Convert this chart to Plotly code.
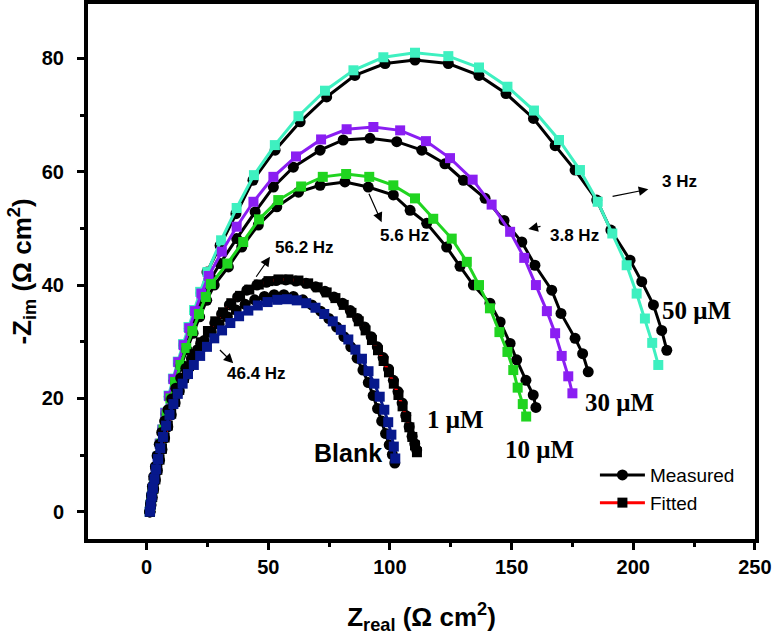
import plotly.graph_objects as go

# ---------------- data ----------------
# 50 uM
m50_x = [1.3, 1.6, 2.0, 2.5, 3.1, 3.8, 4.6, 5.5, 6.6, 7.8, 9.3, 11.1, 13.1, 15.3, 17.6, 20.0, 22.4, 24.8,
         30.2, 36.7, 43.7, 52.8, 63.1, 74.0, 85.6, 98.0, 110.3, 124.0, 136.6, 147.7, 159.0, 167.9, 176.1,
         185.0, 190.8, 198.7, 203.5, 208.3, 211.7, 213.8]
m50_y = [0.0, 1.2, 2.5, 4.0, 5.7, 7.6, 9.7, 12.0, 14.5, 17.3, 20.3, 23.3, 26.3, 29.4, 32.4, 35.4, 38.6, 42.3,
         47.0, 52.6, 58.5, 63.8, 68.8, 73.2, 77.0, 79.1, 79.7, 79.1, 77.0, 73.8, 69.4, 64.6, 60.3,
         55.0, 49.7, 44.4, 40.6, 36.5, 32.0, 28.5]
f50_x = [1.2, 1.5, 1.9, 2.4, 3.0, 3.7, 4.5, 5.4, 6.4, 7.6, 9.0, 10.8, 12.8, 15.0, 17.2, 19.5, 22.0, 25.0,
         30.6, 37.0, 44.1, 52.7, 62.4, 73.3, 85.0, 97.3, 110.3, 124.0, 136.6, 148.3, 159.2, 169.5, 178.1,
         185.4, 191.4, 197.3, 201.4, 204.8, 207.8, 210.3]
f50_y = [0.0, 1.2, 2.5, 4.0, 5.7, 7.6, 9.7, 12.0, 14.5, 17.5, 20.5, 23.5, 26.5, 29.6, 32.6, 35.6, 38.8, 42.3,
         47.9, 53.6, 59.4, 64.7, 69.8, 74.3, 77.9, 80.2, 81.0, 80.4, 78.4, 75.0, 70.8, 65.6, 60.3,
         54.7, 49.1, 43.5, 38.5, 34.1, 29.8, 25.9]

# 30 uM
m30_x = [1.3, 1.6, 2.0, 2.5, 3.1, 3.8, 4.7, 5.6, 6.7, 8.0, 9.5, 11.3, 13.4, 15.7, 18.1, 20.6, 23.4, 26.5,
         30.2, 37.0, 44.6, 52.1, 60.3, 71.3, 80.8, 91.8, 102.8, 113.1, 122.6, 130.2, 139.1, 146.9, 154.2,
         159.6, 166.5, 170.3, 176.1, 179.2, 181.5]
m30_y = [0.0, 1.2, 2.5, 4.0, 5.7, 7.6, 9.7, 12.0, 14.5, 17.3, 20.2, 23.1, 26.1, 29.1, 32.1, 35.1, 38.2, 41.2,
         43.8, 48.2, 52.9, 57.3, 60.8, 63.8, 65.6, 65.9, 65.3, 63.8, 61.4, 58.5, 55.3, 51.4, 47.6,
         43.5, 39.1, 35.0, 30.6, 27.9, 24.7]
f30_x = [1.2, 1.5, 1.9, 2.4, 3.0, 3.7, 4.5, 5.4, 6.5, 7.7, 9.2, 11.0, 13.0, 15.2, 17.5, 19.9, 22.5, 25.5,
         30.9, 37.0, 43.9, 52.1, 61.4, 71.7, 82.2, 93.2, 104.2, 114.8, 124.7, 134.0, 141.8, 149.4, 155.2,
         160.0, 164.5, 167.9, 170.6, 173.3, 175.0]
f30_y = [0.0, 1.2, 2.5, 4.0, 5.7, 7.6, 9.7, 12.0, 14.5, 17.4, 20.4, 23.4, 26.4, 29.4, 32.4, 35.4, 38.5, 41.6,
         45.9, 50.3, 54.7, 59.1, 62.7, 65.7, 67.5, 67.9, 67.3, 65.4, 62.4, 58.6, 54.2, 49.4, 44.8,
         40.0, 35.4, 31.5, 27.5, 23.9, 20.9]

# 10 uM
m10_x = [1.3, 1.7, 2.1, 2.6, 3.3, 4.0, 4.9, 5.9, 7.1, 8.4, 10.0, 11.9, 14.1, 16.5, 19.1, 21.8, 24.7, 27.8,
         33.6, 39.1, 45.9, 53.5, 62.4, 71.3, 81.5, 91.1, 101.4, 108.3, 115.1, 123.3, 128.8, 134.3, 141.1,
         145.3, 149.4, 152.1, 155.9, 158.9, 160.0]
m10_y = [0.0, 1.2, 2.5, 4.0, 5.7, 7.6, 9.7, 12.0, 14.5, 17.1, 19.9, 22.8, 25.7, 28.6, 31.5, 34.4, 37.3, 40.0,
         43.2, 46.7, 50.6, 53.8, 56.4, 57.6, 58.2, 57.3, 55.9, 53.2, 50.9, 46.7, 43.3, 40.0, 36.8,
         33.5, 29.7, 26.8, 23.2, 20.6, 18.4]
f10_x = [1.3, 1.6, 2.0, 2.5, 3.1, 3.9, 4.8, 5.8, 6.9, 8.2, 9.8, 11.7, 13.9, 16.3, 18.8, 21.5, 24.3, 26.4,
         33.2, 39.7, 46.2, 54.1, 63.5, 72.4, 82.0, 91.5, 101.4, 110.3, 117.8, 125.4, 131.6, 136.6, 141.1,
         145.0, 148.3, 150.7, 152.5, 154.6, 156.0]
f10_y = [0.0, 1.2, 2.5, 4.0, 5.7, 7.6, 9.7, 12.0, 14.5, 17.2, 20.0, 22.9, 25.9, 28.9, 31.9, 34.9, 37.9, 40.2,
         43.8, 47.6, 51.6, 55.0, 57.4, 59.1, 59.6, 59.1, 57.6, 55.3, 51.7, 48.2, 44.1, 40.0, 35.9,
         31.7, 28.2, 25.0, 21.9, 19.0, 16.8]

# 1 uM
m1_x = [1.4, 1.8, 2.3, 2.9, 3.6, 4.4, 5.3, 6.3, 7.4, 8.7, 10.1, 11.7, 13.4, 15.3, 17.4, 19.7, 22.2, 25.4,
        28.0, 30.8, 34.0, 37.4, 41.2, 45.3, 49.2, 53.2, 57.2, 61.3, 65.5, 69.5, 73.3, 77.0, 80.5, 83.7,
        86.7, 89.6, 92.3, 94.8, 97.2, 99.4, 101.4, 103.3, 105.0, 106.5, 107.9, 109.1, 110.2, 111.0]
m1_y = [0.0, 1.2, 2.5, 4.0, 5.6, 7.3, 9.1, 11.0, 13.0, 15.0, 17.1, 19.2, 21.3, 23.4, 25.5, 27.6, 29.7, 31.7,
        33.3, 34.9, 36.5, 37.9, 39.1, 40.0, 40.5, 40.8, 40.9, 40.7, 40.3, 39.7, 38.9, 37.9, 36.8, 35.5,
        34.1, 32.6, 30.9, 29.1, 27.2, 25.2, 23.2, 21.2, 19.2, 17.0, 15.0, 13.3, 12.0, 10.9]
f1_x = [1.4, 1.8, 2.3, 2.9, 3.6, 4.4, 5.3, 6.3, 7.4, 8.7, 10.1, 11.7, 13.4, 15.3, 17.4, 19.7, 22.3, 25.2,
        28.2, 31.4, 34.8, 38.4, 42.2, 46.1, 50.1, 54.2, 58.3, 62.4, 66.4, 70.3, 74.0, 77.6, 81.0, 84.2,
        87.2, 90.0, 92.6, 95.1, 97.4, 99.6, 101.6, 103.5, 105.2, 106.7, 108.0, 109.2, 110.3, 111.1]
f1_y = [0.0, 1.3, 2.6, 4.1, 5.7, 7.4, 9.2, 11.1, 13.1, 15.2, 17.3, 19.4, 21.5, 23.6, 25.7, 27.8, 29.9, 31.9,
        33.6, 35.2, 36.8, 38.1, 39.2, 40.1, 40.7, 41.0, 41.0, 40.8, 40.3, 39.6, 38.7, 37.7, 36.5, 35.1,
        33.6, 32.0, 30.3, 28.5, 26.6, 24.6, 22.6, 20.6, 18.6, 16.7, 14.9, 13.2, 11.7, 10.5]

# Blank
mb_x = [1.3, 1.6, 2.0, 2.4, 2.9, 3.6, 4.3, 5.2, 6.2, 7.4, 8.8, 10.3, 12.0, 14.0, 16.1, 18.4, 20.9, 23.6,
        26.6, 29.8, 33.2, 36.8, 40.5, 44.4, 48.4, 52.4, 56.4, 60.3, 64.2, 67.9, 71.5, 74.9, 78.1, 81.1,
        83.9, 86.5, 88.9, 91.1, 93.1, 94.9, 96.6, 98.2, 99.7, 101.0, 102.0]
mb_y = [0.0, 1.4, 2.9, 4.5, 6.2, 8.0, 9.9, 11.9, 14.0, 16.0, 18.0, 19.9, 21.8, 23.6, 25.3, 27.0, 28.6, 30.2,
        31.7, 33.1, 34.4, 35.6, 36.6, 37.4, 38.0, 38.3, 38.3, 38.0, 37.4, 36.5, 35.4, 34.1, 32.6, 30.9,
        29.1, 27.1, 25.0, 22.8, 20.5, 18.2, 16.0, 13.8, 11.8, 10.1, 8.6]
fb_x = [1.4, 1.7, 2.1, 2.6, 3.2, 3.9, 4.7, 5.6, 6.7, 8.0, 9.4, 11.0, 12.8, 14.8, 17.0, 19.4, 22.0, 24.8,
        27.8, 31.0, 34.4, 38.0, 41.8, 45.7, 49.7, 53.7, 57.7, 61.7, 65.6, 69.4, 73.0, 76.5, 79.8, 82.9,
        85.8, 88.5, 91.2, 93.6, 95.8, 97.7, 99.3, 100.6, 101.6, 102.2]
fb_y = [0.0, 1.3, 2.7, 4.2, 5.8, 7.5, 9.3, 11.2, 13.2, 15.2, 17.1, 19.0, 20.8, 22.6, 24.3, 25.9, 27.5, 29.1,
        30.6, 32.0, 33.3, 34.5, 35.5, 36.4, 37.0, 37.4, 37.5, 37.3, 36.8, 36.0, 34.9, 33.6, 32.1, 30.4,
        28.6, 27.0, 24.8, 22.6, 20.3, 18.0, 15.8, 13.6, 11.5, 9.4]

# labels
conc_labels = ["50 μM", "30 μM", "10 μM", "1 μM"]
conc_lab_x = [211.0, 179.4, 146.5, 114.4]
conc_lab_y = [35.6, 19.2, 10.9, 16.2]
blank_label = "Blank"
blank_lab_xy = (68.0, 10.4)

freq_labels = ["3 Hz", "3.8 Hz", "5.6 Hz", "56.2 Hz", "46.4 Hz"]
freq_lab_x = [211.0, 165.0, 95.1, 52.0, 32.2]
freq_lab_y = [58.2, 48.8, 48.8, 46.7, 24.4]
arrow_tail_x = [190.9, 162.5, 91.1, 44.6, 29.5]
arrow_tail_y = [55.6, 50.4, 56.4, 41.2, 28.8]
arrow_head_x = [206.2, 156.9, 96.6, 50.7, 35.6]
arrow_head_y = [56.9, 49.9, 51.1, 45.0, 26.2]

# ---------------- figure ----------------
C50 = "#3EF0C0"
C30 = "#8A1EF2"
C10 = "#20D420"
CB = "#07188C"

fig = go.Figure()


def meas(x, y, show=False):
    fig.add_trace(go.Scatter(x=x, y=y, mode="lines+markers", name="Measured", showlegend=show,
                             line=dict(color="black", width=3),
                             marker=dict(symbol="circle", size=11, color="black")))


def fit(x, y, lc, mc, show=False):
    fig.add_trace(go.Scatter(x=x, y=y, mode="lines+markers", name="Fitted", showlegend=show,
                             line=dict(color=lc, width=3),
                             marker=dict(symbol="square", size=10, color=mc)))


meas(m50_x, m50_y)
fit(f50_x, f50_y, C50, C50)
meas(m30_x, m30_y)
fit(f30_x, f30_y, C30, C30)
meas(m10_x, m10_y)
fit(f10_x, f10_y, C10, C10)
meas(m1_x, m1_y, show=True)
fit(f1_x, f1_y, "red", "black", show=True)
meas(mb_x, mb_y)
fit(fb_x, fb_y, CB, CB)

annotations = []
for t, x, y in zip(conc_labels, conc_lab_x, conc_lab_y):
    annotations.append(dict(x=x, y=y, xref="x", yref="y", text=t, showarrow=False, xanchor="left",
                            yanchor="middle",
                            font=dict(family="Liberation Serif, Times New Roman", size=25,
                                      color="black", weight="bold")))
annotations.append(dict(x=blank_lab_xy[0], y=blank_lab_xy[1], xref="x", yref="y", text=blank_label,
                        showarrow=False, xanchor="left", yanchor="middle",
                        font=dict(family="Liberation Sans, Arial", size=25, color="black",
                                  weight="bold")))
for t, x, y in zip(freq_labels, freq_lab_x, freq_lab_y):
    annotations.append(dict(x=x, y=y, xref="x", yref="y", text=t, showarrow=False, xanchor="left",
                            yanchor="middle",
                            font=dict(family="Liberation Sans, Arial", size=17, color="black",
                                      weight="bold")))
for tx, ty, hx, hy in zip(arrow_tail_x, arrow_tail_y, arrow_head_x, arrow_head_y):
    annotations.append(dict(x=hx, y=hy, ax=tx, ay=ty, xref="x", yref="y", axref="x", ayref="y",
                            text="", showarrow=True, arrowhead=2, arrowsize=1.6, arrowwidth=1.2,
                            arrowcolor="black"))

tickfont = dict(family="Liberation Sans, Arial", size=20, color="black", weight="bold")
titlefont = dict(family="Liberation Sans, Arial", size=26, color="black", weight="bold")

fig.update_layout(
    width=773, height=635,
    margin=dict(l=88, r=18, t=4, b=96),
    plot_bgcolor="white", paper_bgcolor="white",
    annotations=annotations,
    legend=dict(x=0.76, y=0.155, xanchor="left", yanchor="top", bgcolor="rgba(0,0,0,0)",
                font=dict(family="Liberation Sans, Arial", size=19, color="black"),
                itemwidth=45, tracegroupgap=0),
    xaxis=dict(range=[-24.1, 250.05], tick0=0, dtick=50, ticks="outside", ticklen=7, tickwidth=3,
               tickcolor="black", showline=True, linecolor="black", linewidth=4, mirror=True,
               showgrid=False, zeroline=False, tickfont=tickfont, automargin=False,
               minor=dict(dtick=25, tick0=0, ticks="outside", ticklen=4, tickwidth=3,
                          tickcolor="black", showgrid=False),
               title=dict(text="Z<sub>real</sub> (Ω cm<sup>2</sup>)", font=titlefont, standoff=33)),
    yaxis=dict(range=[-4.81, 89.6], tick0=0, dtick=20, ticks="outside", ticklen=7, tickwidth=3,
               tickcolor="black", showline=True, linecolor="black", linewidth=4, mirror=True,
               showgrid=False, zeroline=False, tickfont=tickfont, automargin=False,
               ticklabelstandoff=9,
               minor=dict(dtick=10, tick0=0, ticks="outside", ticklen=4, tickwidth=3,
                          tickcolor="black", showgrid=False),
               title=dict(text="-Z<sub>im</sub> (Ω cm<sup>2</sup>)", font=titlefont, standoff=4)),
)

fig.write_html("out.html", config={"displayModeBar": False},
               post_script="document.body.style.margin='0';")
